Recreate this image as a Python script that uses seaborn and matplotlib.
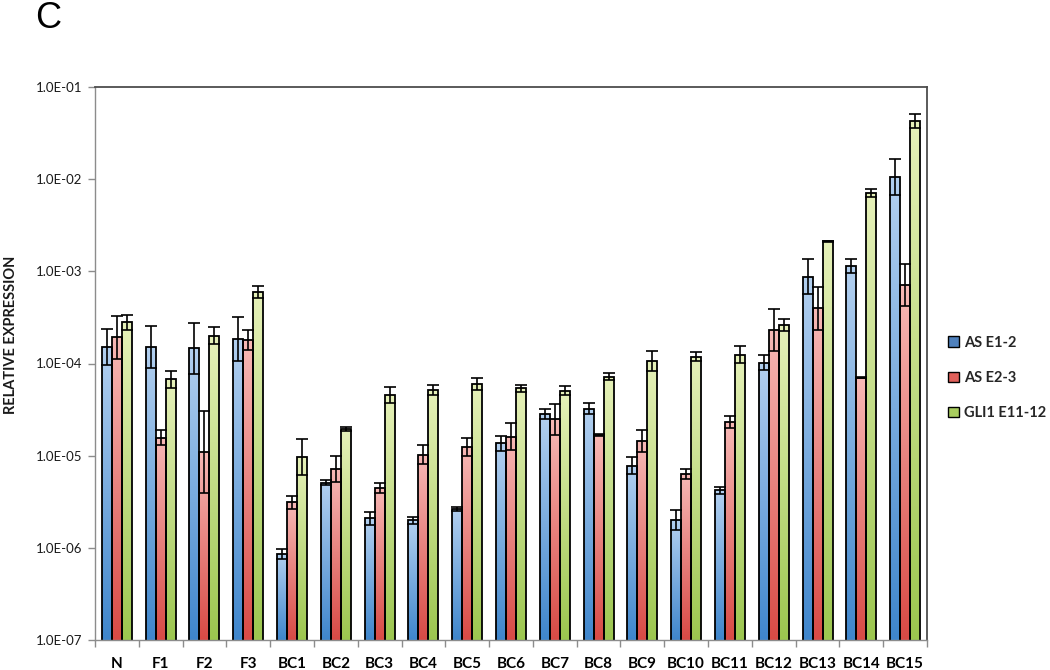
import numpy as np
import pandas as pd
import seaborn as sns
import matplotlib
matplotlib.use("Agg")
import matplotlib.pyplot as plt
import matplotlib.image as mimage
from matplotlib.patches import Patch
from matplotlib.colors import to_rgb
from matplotlib.ticker import FixedLocator, FuncFormatter, NullLocator

# ---------------- data ----------------
samples = ["N", "F1", "F2", "F3", "BC1", "BC2", "BC3", "BC4", "BC5", "BC6",
           "BC7", "BC8", "BC9", "BC10", "BC11", "BC12", "BC13", "BC14", "BC15"]
series = ["AS E1-2", "AS E2-3", "GLI1 E11-12"]

as_e12 = [1.52e-4, 1.52e-4, 1.46e-4, 1.86e-4, 8.6e-7, 5.1e-6, 2.1e-6, 2.0e-6,
          2.65e-6, 1.36e-5, 2.83e-5, 3.24e-5, 7.8e-6, 2.0e-6, 4.2e-6, 1.02e-4,
          8.75e-4, 1.15e-3, 1.06e-2]
as_e12_err = [8.5e-5, 1.05e-4, 1.31e-4, 1.36e-4, 1.2e-7, 3.4e-7, 3.7e-7, 1.8e-7,
              1.5e-7, 2.8e-6, 3.7e-6, 4.9e-6, 1.9e-6, 5.8e-7, 4.0e-7, 2.1e-5,
              4.85e-4, 2.2e-4, 6.0e-3]

as_e23 = [1.92e-4, 1.57e-5, 1.1e-5, 1.80e-4, 3.12e-6, 7.16e-6, 4.5e-6, 1.02e-5,
          1.25e-5, 1.61e-5, 2.48e-5, 1.67e-5, 1.44e-5, 6.35e-6, 2.32e-5, 2.29e-4,
          3.97e-4, 7.0e-5, 7.1e-4]
as_e23_err = [1.38e-4, 3.4e-6, 1.98e-5, 5.1e-5, 5.6e-7, 2.68e-6, 6.0e-7, 2.7e-6,
              3.1e-6, 6.5e-6, 1.16e-5, 5.0e-7, 4.6e-6, 9.0e-7, 3.8e-6, 1.58e-4,
              2.83e-4, 1.0e-6, 4.8e-4]

gli1 = [2.80e-4, 6.73e-5, 2.0e-4, 5.92e-4, 9.6e-6, 1.93e-5, 4.55e-5, 5.16e-5,
        6.0e-5, 5.38e-5, 5.07e-5, 7.2e-5, 1.07e-4, 1.19e-4, 1.25e-4, 2.59e-4,
        2.13e-3, 7.03e-3, 4.3e-2]
gli1_err = [5.6e-5, 1.63e-5, 4.7e-5, 9.5e-5, 5.4e-6, 1.0e-6, 1.05e-5, 6.4e-6,
            1.0e-5, 5.1e-6, 5.9e-6, 6.0e-6, 3.0e-5, 1.4e-5, 3.1e-5, 4.2e-5,
            3.0e-5, 7.7e-4, 8.3e-3]

y_ticks = [1e-7, 1e-6, 1e-5, 1e-4, 1e-3, 1e-2, 1e-1]

values = [as_e12, as_e23, gli1]
errors = [as_e12_err, as_e23_err, gli1_err]

# ---------------- styling ----------------
top_cols = ["#b3d0f0", "#f7b9b6", "#e6f1b9"]
bot_cols = ["#3f86cc", "#d84a45", "#9cc64f"]
mid_cols = ["#4f81bd", "#e0605a", "#a9cd5f"]

df = pd.DataFrame({
    "sample": np.tile(samples, 3),
    "series": np.repeat(series, len(samples)),
    "value": np.concatenate(values),
})

sns.set_theme(style="white")
plt.rcParams["font.family"] = ["Lato", "DejaVu Sans"]

fig = plt.figure(figsize=(10.5, 6.7), dpi=100)
ax = fig.add_axes([95 / 1050, 1 - 640 / 670, (927 - 95) / 1050, (640 - 87) / 670])

sns.barplot(data=df, x="sample", y="value", hue="series", order=samples,
            hue_order=series, palette=mid_cols, errorbar=None, width=0.685,
            edgecolor="black", linewidth=1.3, log_scale=True, ax=ax,
            legend=False)

ax.set_yscale("log")
ax.set_ylim(1e-7, 1e-1)
ax.set_xlim(-0.5, len(samples) - 0.5)

fig.canvas.draw()
to_axes = ax.transData + ax.transAxes.inverted()

bar_containers = list(ax.containers)[:3]
for k, cont in enumerate(bar_containers):
    c0 = np.array(to_rgb(bot_cols[k]))
    c1 = np.array(to_rgb(top_cols[k]))
    t = np.linspace(0, 1, 256)[:, None]
    grad = (c0[None, :] * (1 - t) + c1[None, :] * t)[:, None, :]
    xs, ys, lo, hi = [], [], [], []
    for j, p in enumerate(cont.patches):
        x0 = p.get_x()
        w = p.get_width()
        top = p.get_y() + p.get_height()
        (ax0, ay1) = to_axes.transform((x0, top))
        (ax1, _) = to_axes.transform((x0 + w, top))
        im = mimage.AxesImage(ax, interpolation="bilinear", origin="lower",
                              extent=(ax0, ax1, 0, ay1), transform=ax.transAxes)
        im.set_data(grad)
        im.set_clip_path(p)
        im.set_zorder(1.5)
        ax.add_image(im)
        p.set_facecolor("none")
        p.set_zorder(2.5)
        v = values[k][j]
        e = errors[k][j]
        xs.append(x0 + w / 2)
        ys.append(v)
        hi.append(e)
        lo.append(v - v * v / (v + e))
    ax.errorbar(xs, ys, yerr=[lo, hi], fmt="none", ecolor="black",
                elinewidth=1.2, capsize=4, capthick=1.2, zorder=3)

# axes styling
ax.yaxis.set_major_locator(FixedLocator(y_ticks))
ax.yaxis.set_minor_locator(NullLocator())
ax.yaxis.set_major_formatter(FuncFormatter(lambda v, pos: f"{v:.1E}"))
ax.tick_params(axis="y", which="major", direction="out", length=5, width=1,
               color="#8c8c8c", left=True, labelsize=9.5, labelcolor="#1a1a1a",
               pad=4)
ax.set_xticks(range(len(samples)))
ax.set_xticklabels(samples, fontweight="bold", fontsize=11)
ax.xaxis.set_minor_locator(FixedLocator(np.arange(-0.5, len(samples), 1.0)))
ax.tick_params(axis="x", which="major", length=0, pad=12, labelcolor="black")
ax.tick_params(axis="x", which="minor", direction="out", length=5, width=1,
               color="#8c8c8c", bottom=True)

for s in ["left", "bottom"]:
    ax.spines[s].set_color("#8c8c8c")
    ax.spines[s].set_linewidth(1.0)
for s in ["top", "right"]:
    ax.spines[s].set_color("#4d4d4d")
    ax.spines[s].set_linewidth(1.3)
    ax.spines[s].set_visible(True)

ax.set_xlabel("")
ax.set_ylabel("")
ax.grid(False)

fig.text(11 / 1050, 1 - 335 / 670, "RELATIVE EXPRESSION", rotation=90,
         ha="center", va="center", fontsize=10.5, fontweight="bold",
         color="#1a1a1a")

fig.text(35 / 1050, 1 - 1 / 670, "C", ha="left", va="top", fontsize=26,
         family="Liberation Sans", color="black")

handles = [Patch(facecolor=mid_cols[i], edgecolor="black", linewidth=1.0)
           for i in range(3)]
fig.legend(handles, series, loc="center left",
           bbox_to_anchor=(944 / 1050, 1 - 378 / 670), frameon=False,
           prop={"weight": "bold", "size": 10.5}, handlelength=0.75,
           handleheight=0.75, handletextpad=0.35, labelspacing=1.45,
           borderaxespad=0, borderpad=0.3)

fig.savefig("out.png", dpi=100, facecolor="white")
